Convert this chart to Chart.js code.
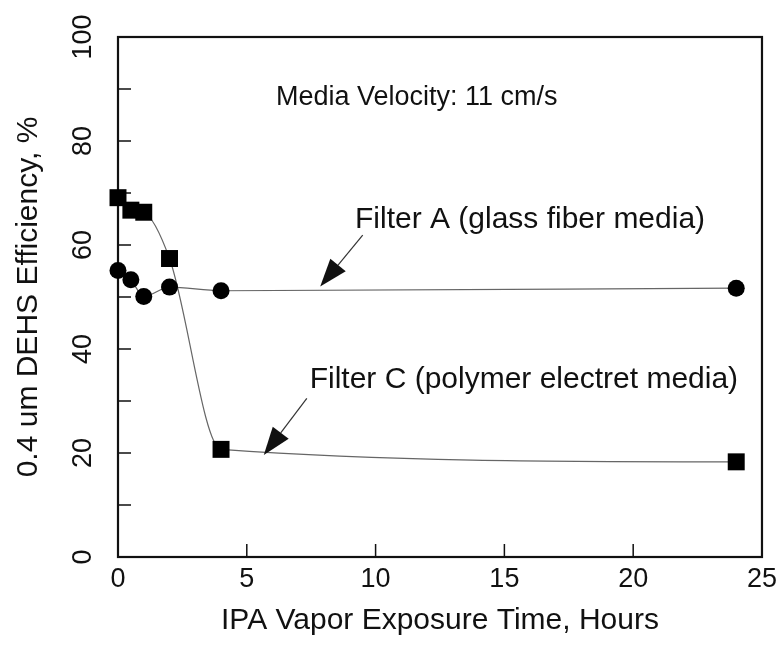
<!DOCTYPE html>
<html>
<head>
<meta charset="utf-8">
<script src="https://cdn.jsdelivr.net/npm/chart.js@4.4.0/dist/chart.umd.min.js"></script>
<style>
  html, body { margin: 0; padding: 0; background: #fff; }
</style>
</head>
<body>
<canvas id="chart" width="783" height="646"></canvas>
<script>
// data
const hoursA = [0, 0.5, 1, 2, 4, 24];
const effA   = [55.1, 53.3, 50.1, 51.9, 51.2, 51.7];   // Filter A, circles
const hoursC = [0, 0.5, 1, 2, 4, 24];
const effC   = [69.1, 66.7, 66.3, 57.4, 20.7, 18.3];   // Filter C, squares
const yLabels = [0, 20, 40, 60, 80, 100];

// text notes + arrows, in data units
const notes = [
  { text: "Media Velocity: 11 cm/s",           x: 11.6, y: 88.3, size: 27, align: "center" },
  { text: "Filter A (glass fiber media)",      x: 9.2,  y: 64.8, size: 30, align: "left" },
  { text: "Filter C (polymer electret media)", x: 7.44, y: 34.0, size: 30, align: "left" },
];
const arrows = [
  { from: [9.5, 61.9], to: [7.85, 52.0] },
  { from: [7.33, 30.5], to: [5.66, 19.6] },
];

const FONT = "'Liberation Sans', Arial, Helvetica, sans-serif";

/** frame, inward ticks, notes, arrows */
const decor = {
  id: "decor",
  beforeDatasetsDraw(chart) {
    const { ctx, chartArea: a, scales: { x, y } } = chart;
    ctx.save();
    ctx.strokeStyle = "#111";
    ctx.lineWidth = 2.2;
    ctx.strokeRect(a.left, a.top, a.right - a.left, a.bottom - a.top);
    ctx.lineWidth = 1.5;
    ctx.beginPath();
    for (let v = 10; v < 100; v += 10) {
      const py = y.getPixelForValue(v);
      ctx.moveTo(a.left, py); ctx.lineTo(a.left + 13, py);
    }
    for (let v = 5; v < 25; v += 5) {
      const px = x.getPixelForValue(v);
      ctx.moveTo(px, a.bottom); ctx.lineTo(px, a.bottom - 13);
    }
    ctx.stroke();
    ctx.restore();
  },
  afterDatasetsDraw(chart) {
    const { ctx, scales: { x, y } } = chart;
    ctx.save();
    ctx.fillStyle = "#111";
    ctx.textBaseline = "middle";
    notes.forEach(n => {
      ctx.font = n.size + "px " + FONT;
      ctx.textAlign = n.align;
      ctx.fillText(n.text, x.getPixelForValue(n.x), y.getPixelForValue(n.y));
    });
    arrows.forEach(ar => {
      const x0 = x.getPixelForValue(ar.from[0]), y0 = y.getPixelForValue(ar.from[1]);
      const x1 = x.getPixelForValue(ar.to[0]),   y1 = y.getPixelForValue(ar.to[1]);
      const ang = Math.atan2(y1 - y0, x1 - x0);
      const len = 28, half = 10;
      const bx = x1 - len * Math.cos(ang), by = y1 - len * Math.sin(ang);
      ctx.strokeStyle = "#333";
      ctx.lineWidth = 1.2;
      ctx.beginPath(); ctx.moveTo(x0, y0); ctx.lineTo(bx, by); ctx.stroke();
      ctx.beginPath();
      ctx.moveTo(x1, y1);
      ctx.lineTo(bx + half * Math.sin(ang), by - half * Math.cos(ang));
      ctx.lineTo(bx - half * Math.sin(ang), by + half * Math.cos(ang));
      ctx.closePath();
      ctx.fill();
    });
    ctx.restore();
  },
};

const pts = (xs, ys) => xs.map((v, i) => ({ x: v, y: ys[i] }));

new Chart(document.getElementById("chart"), {
  type: "line",
  data: {
    datasets: [
      {
        label: "Filter A",
        data: pts(hoursA, effA),
        borderColor: "#666",
        borderWidth: 1.2,
        cubicInterpolationMode: "monotone",
        pointStyle: "circle",
        pointRadius: 8.5,
        pointBackgroundColor: "#000",
        pointBorderColor: "#000",
        pointBorderWidth: 0,
        clip: false,
      },
      {
        label: "Filter C",
        data: pts(hoursC, effC),
        borderColor: "#666",
        borderWidth: 1.2,
        cubicInterpolationMode: "monotone",
        pointStyle: "rect",
        pointRadius: 12,
        pointBackgroundColor: "#000",
        pointBorderColor: "#000",
        pointBorderWidth: 0,
        clip: false,
      },
    ],
  },
  options: {
    responsive: false,
    animation: false,
    layout: { padding: { top: 37, right: 16, left: 0, bottom: 0 } },
    plugins: { legend: { display: false }, tooltip: { enabled: false } },
    scales: {
      x: {
        type: "linear",
        position: "bottom",
        min: 0, max: 25,
        grid: { display: false, drawTicks: false },
        border: { display: false },
        ticks: { stepSize: 5, maxRotation: 0, padding: 6, color: "#111", font: { family: FONT, size: 27 } },
        title: {
          display: true, text: "IPA Vapor Exposure Time, Hours", color: "#111",
          font: { family: FONT, size: 30 }, padding: { top: 0, bottom: 7 },
        },
        afterFit: s => { s.height = 89; },
      },
      y: {
        type: "linear",
        min: 0, max: 100,
        grid: { display: false, drawTicks: false },
        border: { display: false },
        ticks: {
          stepSize: 10, autoSkip: false, minRotation: 90, maxRotation: 90,
          crossAlign: "center", padding: 12, color: "#111",
          font: { family: FONT, size: 27 },
          callback: v => (yLabels.includes(v) ? v : ""),
        },
        title: {
          display: true, text: "0.4 um DEHS Efficiency, %", color: "#111",
          font: { family: FONT, size: 30 }, padding: { top: 11, bottom: 0 },
        },
        afterFit: s => { s.width = 118; },
      },
    },
  },
  plugins: [decor],
});
</script>
</body>
</html>
